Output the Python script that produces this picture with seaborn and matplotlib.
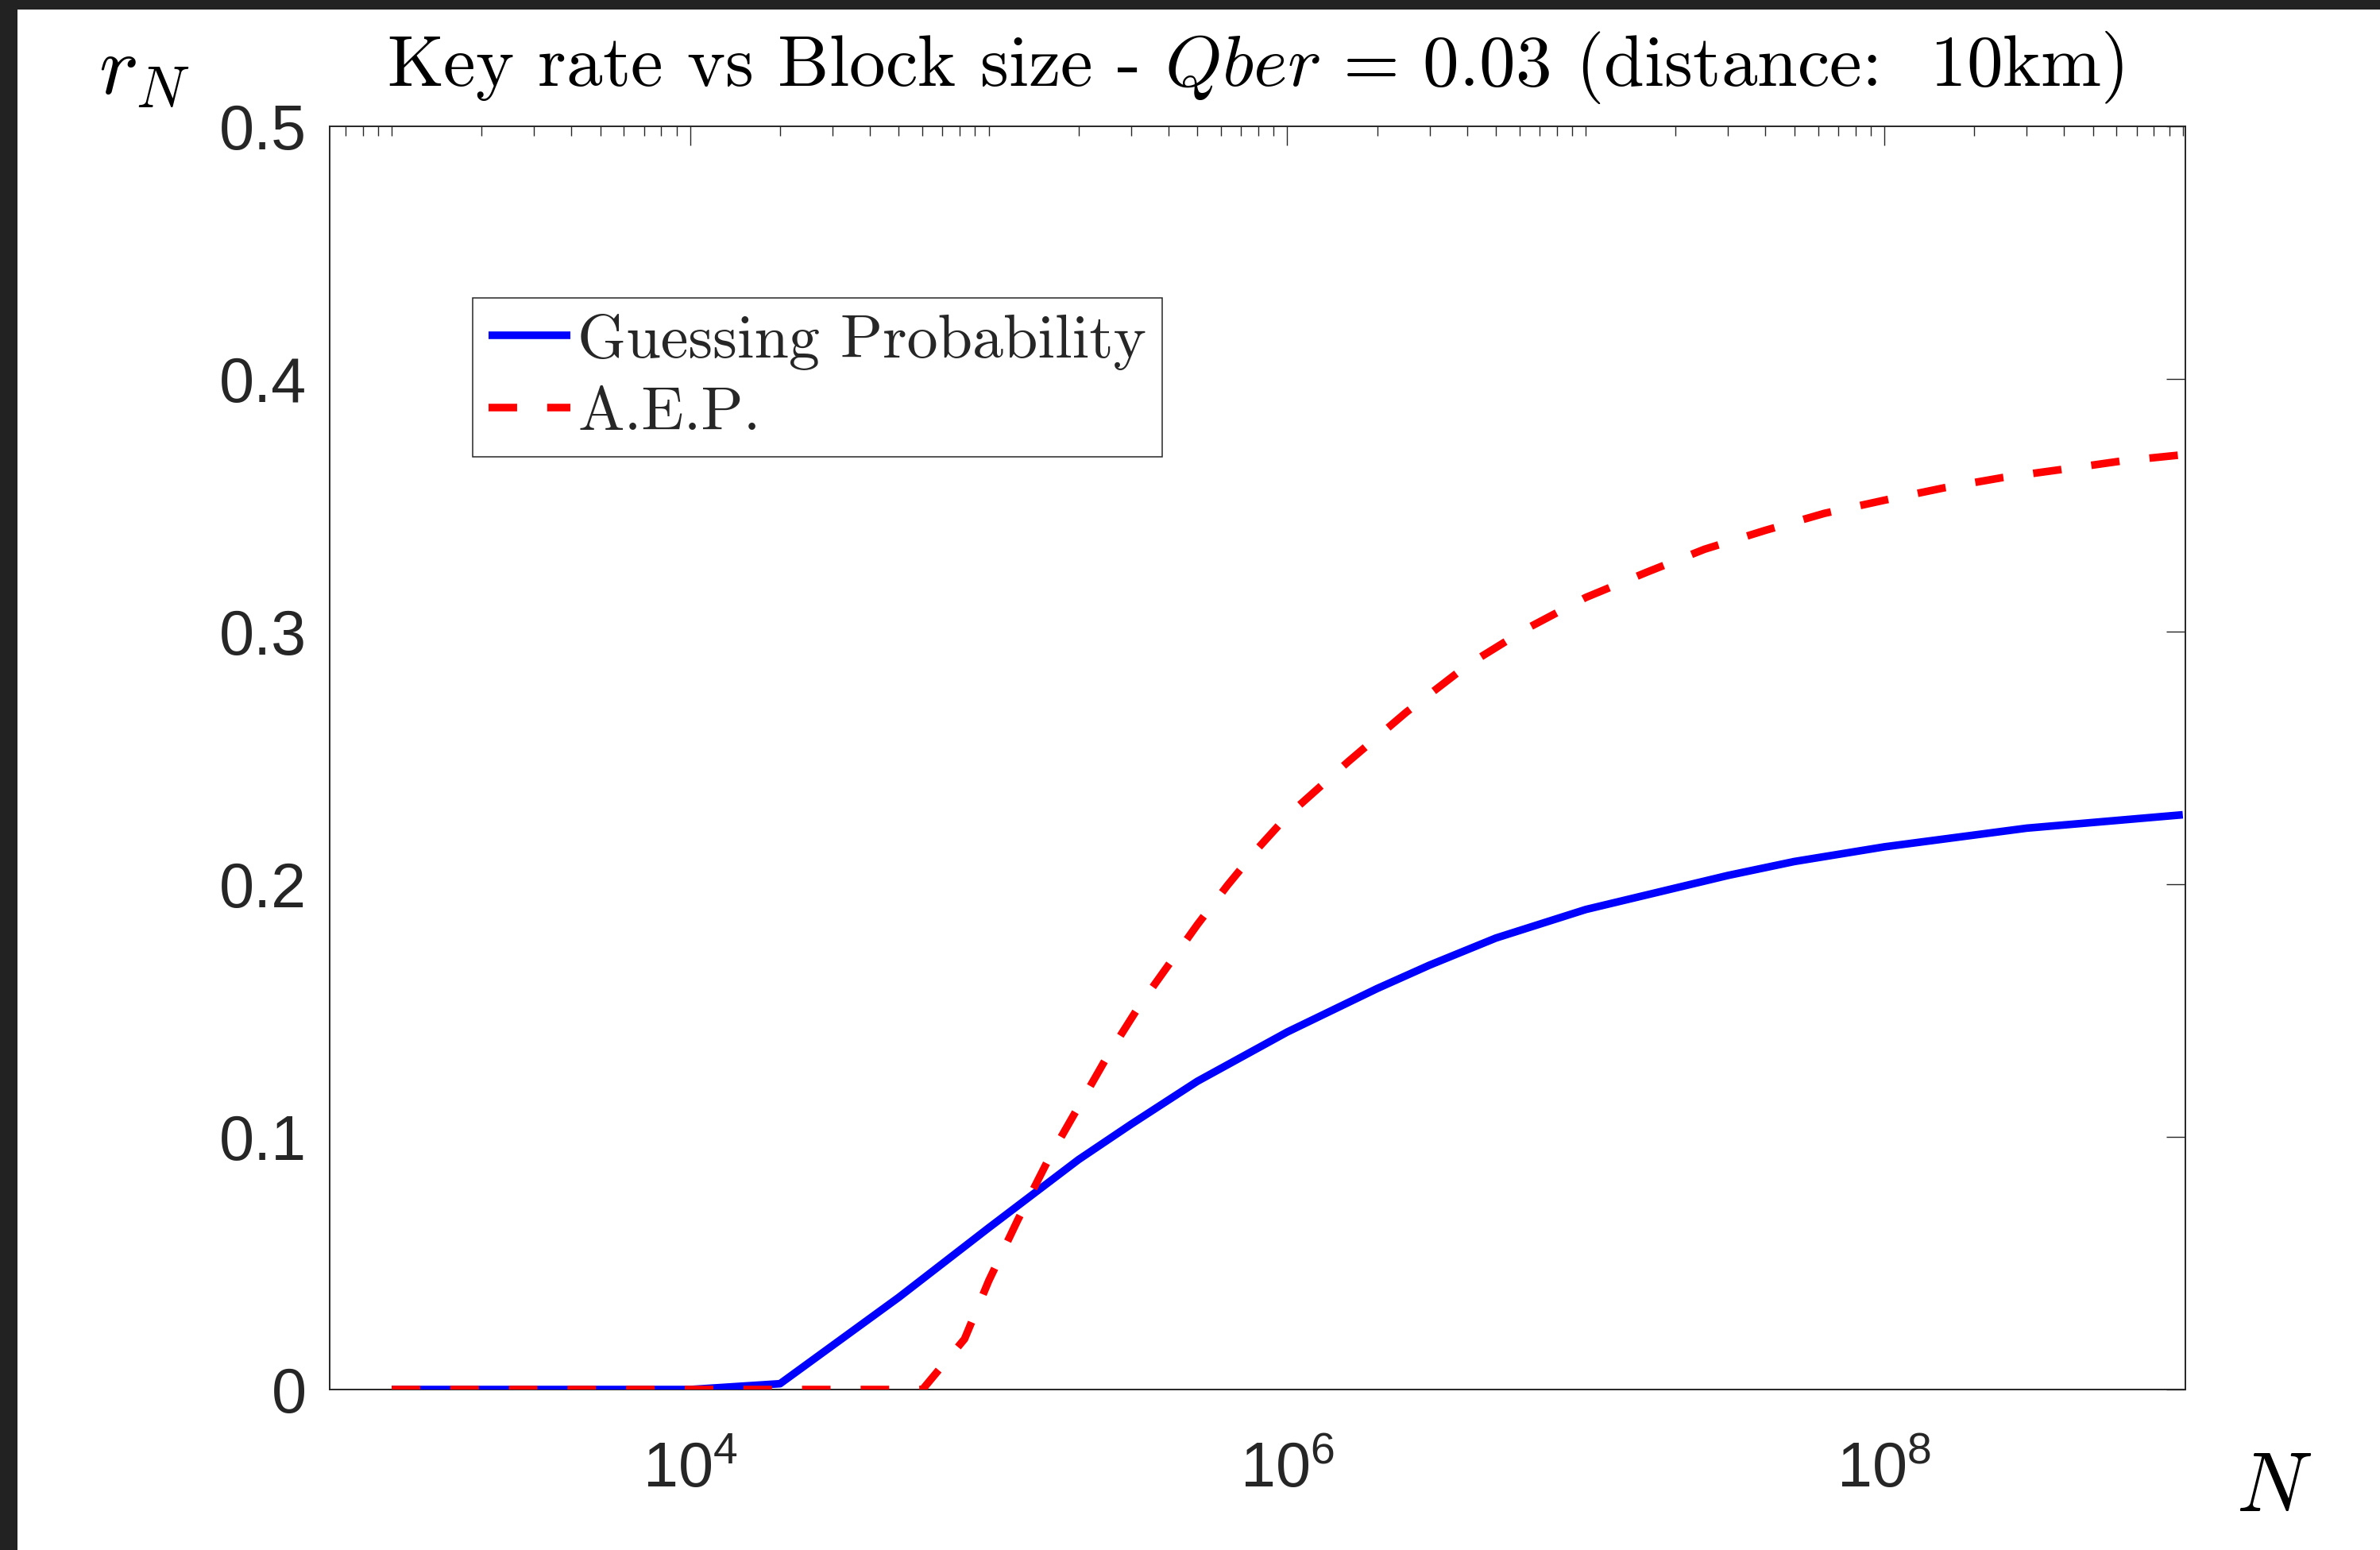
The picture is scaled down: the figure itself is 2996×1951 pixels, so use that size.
import numpy as np
import pandas as pd
import matplotlib
matplotlib.use("Agg")
import matplotlib.pyplot as plt
import seaborn as sns
from matplotlib.ticker import FixedLocator, FixedFormatter, LogLocator, NullFormatter, NullLocator
from matplotlib.patches import Rectangle

# ---------------- data ----------------
N_guess = [1e3, 2e3, 5e3, 1e4, 2e4, 5e4, 1e5, 2e5, 3e5, 5e5, 1e6, 2e6, 3e6, 5e6,
           1e7, 3e7, 5e7, 1e8, 3e8, 1e9]
r_guess = [0.0, 0.0, 0.0, 0.0, 0.0023, 0.0365, 0.064, 0.091, 0.105, 0.122, 0.1415,
           0.1587, 0.168, 0.1787, 0.190, 0.2035, 0.209, 0.2148, 0.2222, 0.2275]

N_aep = [1e3, 2e3, 5e3, 1e4, 2e4, 4e4, 6e4, 8.3e4, 1e5, 1.25e5, 1.6e5, 2e5, 2.5e5,
         3.2e5, 4e5, 5e5, 6.3e5, 8e5, 1e6, 1.6e6, 2.5e6, 4e6, 6.3e6, 1e7, 1.6e7,
         2.5e7, 4e7, 6.3e7, 1e8, 1.6e8, 2.5e8, 4e8, 6.3e8, 1e9]
r_aep = [0.0, 0.0, 0.0, 0.0, 0.0, 0.0, 0.0, 0.020, 0.043, 0.067, 0.092, 0.112, 0.132,
         0.152, 0.168, 0.184, 0.1995, 0.2144, 0.227, 0.2485, 0.268, 0.2866, 0.301,
         0.3135, 0.3235, 0.3326, 0.3401, 0.3468, 0.352, 0.357, 0.361, 0.3643, 0.3676,
         0.370]

series_labels = ["Guessing Probability", "A.E.P."]
x_major_ticks = [1e4, 1e6, 1e8]
x_major_labels = [r"$10^{4}$", r"$10^{6}$", r"$10^{8}$"]
y_ticks = [0.0, 0.1, 0.2, 0.3, 0.4, 0.5]
y_tick_labels = ["0", "0.1", "0.2", "0.3", "0.4", "0.5"]
title_text = r"Key rate vs Block size - $Qber\,=\,0.03$ (distance:  10km)"

# ---------------- style ----------------
sns.set_theme(style="white")
plt.rcParams["font.family"] = ["Liberation Sans", "DejaVu Sans"]
plt.rcParams["mathtext.fontset"] = "custom"
plt.rcParams["mathtext.rm"] = "Liberation Sans"
plt.rcParams["mathtext.it"] = "Liberation Sans:italic"
plt.rcParams["mathtext.bf"] = "Liberation Sans:bold"

W, H = 2996, 1951
fig = plt.figure(figsize=(W / 100, H / 100), dpi=100)
fig.patch.set_facecolor("white")

ax_l, ax_r, ax_t, ax_b = 415, 2751, 159, 1749
ax = fig.add_axes([ax_l / W, 1 - ax_b / H, (ax_r - ax_l) / W, (ax_b - ax_t) / H])
ax.set_facecolor("white")

df_g = pd.DataFrame({"N": N_guess, "r": r_guess})
df_a = pd.DataFrame({"N": N_aep, "r": r_aep})

lw = 6.9
sns.lineplot(data=df_g, x="N", y="r", color="#0000ff", lw=lw, estimator=None,
             ax=ax, label=series_labels[0], zorder=3, solid_capstyle="butt",
             solid_joinstyle="round")
sns.lineplot(data=df_a, x="N", y="r", color="#ff0000", lw=lw, estimator=None,
             ax=ax, label=series_labels[1], linestyle=(0, (3.75, 3.95)), zorder=4)

ax.set_xscale("log")
ax.set_xlim(620, 1.02e9)
ax.set_ylim(0, 0.5)

ax.xaxis.set_major_locator(FixedLocator(x_major_ticks))
ax.xaxis.set_major_formatter(FixedFormatter(x_major_labels))
ax.xaxis.set_minor_locator(LogLocator(base=10, subs=np.arange(1, 10), numticks=200))
ax.xaxis.set_minor_formatter(NullFormatter())
ax.yaxis.set_major_locator(FixedLocator(y_ticks))
ax.yaxis.set_major_formatter(FixedFormatter(y_tick_labels))
ax.yaxis.set_minor_locator(NullLocator())

axc = "#262626"
for s in ax.spines.values():
    s.set_visible(True)
    s.set_color(axc)
    s.set_linewidth(1.4)

ax.tick_params(axis="both", which="both", direction="in", top=True, right=True,
               color=axc, labelcolor=axc)
ax.tick_params(axis="both", which="major", length=17, width=1.0, labelsize=57)
ax.tick_params(axis="x", which="minor", length=8.6, width=1.0)
ax.tick_params(axis="y", which="major", pad=21)
ax.tick_params(axis="x", which="major", pad=47)

ax.set_xlabel(r"$N$", fontsize=76, math_fontfamily="cm", color="black",
              ha="left", va="baseline")
ax.xaxis.set_label_coords(2815 / W, 1 - 1902 / H, transform=fig.transFigure)
ax.set_ylabel(r"$r_N$", fontsize=76, math_fontfamily="cm", color="black",
              rotation=0, ha="left", va="baseline")
ax.yaxis.set_label_coords(124 / W, 1 - 118 / H, transform=fig.transFigure)

fig.text(1580 / W, 1 - 108 / H, title_text, fontsize=65.7, family="cmr10",
         math_fontfamily="cm", ha="center", va="baseline", color="black")

handles, labels = ax.get_legend_handles_labels()
leg = ax.legend(handles, labels, loc="upper left",
                bbox_to_anchor=(595 / W, 1 - 375 / H), bbox_transform=fig.transFigure,
                borderaxespad=0, frameon=True, fancybox=False, framealpha=1,
                edgecolor=axc, facecolor="white",
                prop={"family": "cmr10", "size": 56.3},
                handlelength=1.32, handletextpad=0.12, labelspacing=0.26,
                borderpad=0.25)
leg.get_frame().set_linewidth(1.1)

# screenshot dark borders (top and left)
fig.patches.append(Rectangle((0, 1 - 12 / H), 1, 12 / H, transform=fig.transFigure,
                             facecolor="#222222", edgecolor="none", zorder=10))
fig.patches.append(Rectangle((0, 0), 22 / W, 1, transform=fig.transFigure,
                             facecolor="#222222", edgecolor="none", zorder=10))

fig.savefig("out.png", dpi=100, facecolor="white")
